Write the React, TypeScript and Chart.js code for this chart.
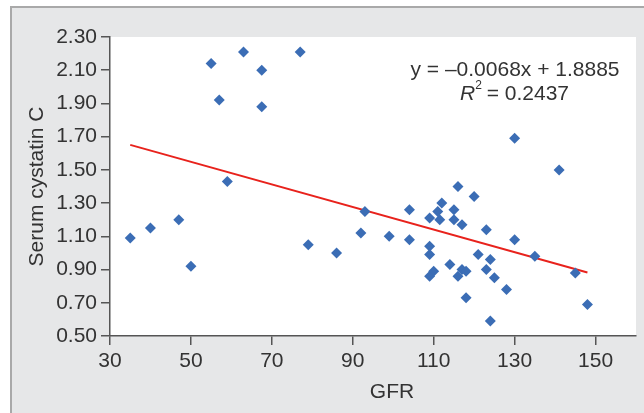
import React, { useEffect, useRef } from "react";
import { Chart, registerables } from "chart.js";

Chart.register(...registerables);

const GFR = [
  35, 40, 47, 50, 55, 57, 59, 63, 67.5, 67.5, 77, 79, 86, 92, 93, 99, 104, 104,
  109, 109, 109, 109, 110, 111, 111.5, 112, 115, 115, 116, 117, 120, 123, 114,
  117, 118, 116, 121, 124, 123, 125, 128, 118, 124, 130, 130, 135, 141, 145, 148,
];
const CYSTATIN = [
  1.09, 1.15, 1.2, 0.92, 2.14, 1.92, 1.43, 2.21, 2.1, 1.88, 2.21, 1.05, 1.0,
  1.12, 1.25, 1.1, 1.26, 1.08, 1.21, 1.04, 0.99, 0.86, 0.89, 1.25, 1.2, 1.3,
  1.26, 1.2, 1.4, 1.17, 1.34, 1.14, 0.93, 0.9, 0.89, 0.86, 0.99, 0.96, 0.9,
  0.85, 0.78, 0.73, 0.59, 1.69, 1.08, 0.98, 1.5, 0.88, 0.69,
];
const TREND_X = [35, 148];
const TREND_Y = [1.6505, 0.8821];
const X_TICKS = [30, 50, 70, 90, 110, 130, 150];
const Y_TICKS = [0.5, 0.7, 0.9, 1.1, 1.3, 1.5, 1.7, 1.9, 2.1, 2.3];
const X_TITLE = "GFR";
const Y_TITLE = "Serum cystatin C";
const EQUATION = "y = \u20130.0068x + 1.8885";
const R2_VALUE = "0.2437";

const FONT = "'Liberation Sans', Arial, Helvetica, sans-serif";
const TEXT = "#333333";
const AXIS = "#555555";

const framePlugin = {
  id: "frame",
  beforeDraw(chart: any) {
    const { ctx, chartArea } = chart;
    ctx.save();
    ctx.fillStyle = "#e6e7e8";
    ctx.fillRect(11, 7, chart.width - 11, chart.height - 7);
    ctx.fillStyle = "#a9a9a9";
    ctx.fillRect(10, 6, 2, chart.height - 6);
    ctx.fillRect(10, 6, chart.width - 10, 2);
    ctx.fillStyle = "#ffffff";
    ctx.fillRect(
      chartArea.left,
      chartArea.top,
      chartArea.right - chartArea.left,
      chartArea.bottom - chartArea.top
    );
    ctx.restore();
  },
  afterDraw(chart: any) {
    const { ctx, chartArea } = chart;
    ctx.save();
    ctx.fillStyle = TEXT;
    ctx.font = `21px ${FONT}`;
    ctx.textBaseline = "alphabetic";
    // x title
    ctx.textAlign = "center";
    ctx.fillText(X_TITLE, 392, 398);
    // y title
    ctx.save();
    ctx.translate(43, (chartArea.top + chartArea.bottom) / 2);
    ctx.rotate(-Math.PI / 2);
    ctx.fillText(Y_TITLE, 0, 0);
    ctx.restore();
    // equation
    ctx.fillText(EQUATION, 515, 76);
    // R^2 line
    ctx.textAlign = "left";
    const italic = `italic 21px ${FONT}`;
    const normal = `21px ${FONT}`;
    const small = `12px ${FONT}`;
    ctx.font = italic;
    const wR = ctx.measureText("R").width;
    ctx.font = small;
    const w2 = ctx.measureText("2").width;
    ctx.font = normal;
    const rest = " = " + R2_VALUE;
    const wRest = ctx.measureText(rest).width;
    let x = 515 - (wR + w2 + wRest) / 2;
    ctx.font = italic;
    ctx.fillText("R", x, 100);
    x += wR;
    ctx.font = small;
    ctx.fillText("2", x, 89);
    x += w2 - 1;
    ctx.font = normal;
    ctx.fillText(rest, x, 100);
    ctx.restore();
  },
};

export default function App() {
  const ref = useRef<HTMLCanvasElement | null>(null);

  useEffect(() => {
    if (!ref.current) return;
    const chart = new Chart(ref.current, {
      type: "scatter",
      data: {
        datasets: [
          {
            type: "scatter",
            data: GFR.map((g, i) => ({ x: g, y: CYSTATIN[i] })),
            pointStyle: "rectRot",
            pointRadius: 5.5,
            pointBackgroundColor: "#3b6db5",
            pointBorderWidth: 0,
            pointBorderColor: "#3b6db5",
          },
          {
            type: "line",
            data: TREND_X.map((x, i) => ({ x, y: TREND_Y[i] })),
            borderColor: "#e8221c",
            borderWidth: 2,
            pointRadius: 0,
            fill: false,
          } as any,
        ],
      },
      options: {
        responsive: false,
        animation: false,
        devicePixelRatio: 1,
        layout: { padding: { top: 37, right: 8, left: 0, bottom: 0 } },
        plugins: {
          legend: { display: false },
          tooltip: { enabled: false },
          title: { display: false },
        },
        scales: {
          x: {
            type: "linear",
            min: 30,
            max: 160,
            afterBuildTicks: (s: any) => {
              s.ticks = X_TICKS.map((v) => ({ value: v }));
            },
            afterFit: (s: any) => {
              s.height = 77;
            },
            grid: {
              display: true,
              drawOnChartArea: false,
              drawTicks: true,
              tickLength: 9,
              color: AXIS,
              lineWidth: 1.5,
            },
            border: { display: true, color: AXIS, width: 1.5 },
            ticks: {
              autoSkip: false,
              maxRotation: 0,
              padding: 4,
              color: TEXT,
              font: { size: 21, family: FONT },
              callback: (v: any) => String(v),
            },
          },
          y: {
            type: "linear",
            min: 0.5,
            max: 2.3,
            afterBuildTicks: (s: any) => {
              s.ticks = Y_TICKS.map((v) => ({ value: v }));
            },
            afterFit: (s: any) => {
              s.width = 110;
            },
            grid: {
              display: true,
              drawOnChartArea: false,
              drawTicks: true,
              tickLength: 9,
              color: AXIS,
              lineWidth: 1.5,
            },
            border: { display: true, color: AXIS, width: 1.5 },
            ticks: {
              autoSkip: false,
              padding: 4,
              color: TEXT,
              font: { size: 21, family: FONT },
              callback: (v: any) => Number(v).toFixed(2),
            },
          },
        },
      },
      plugins: [framePlugin],
    });
    return () => chart.destroy();
  }, []);

  return (
    <div style={{ position: "absolute", left: 0, top: 0, width: 644, height: 413 }}>
      <canvas ref={ref} width={644} height={413} style={{ display: "block" }} />
    </div>
  );
}
